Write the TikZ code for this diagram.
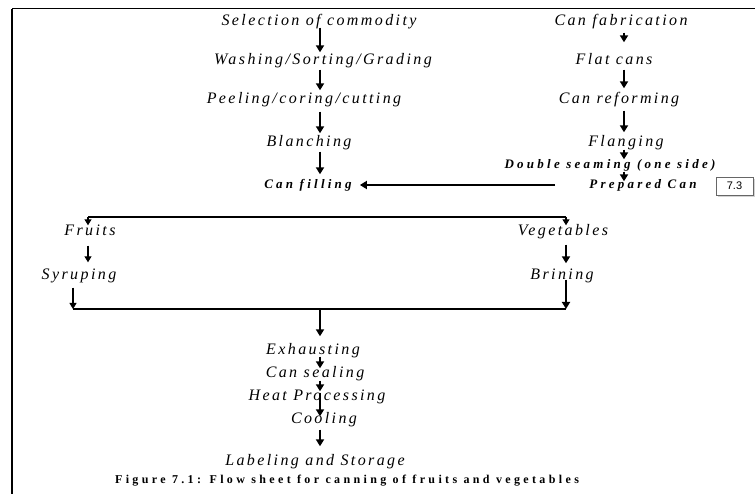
\documentclass[tikz,border=0pt]{standalone}
\usepackage{fontspec}
\usetikzlibrary{arrows.meta,shadows}
\newfontfamily\stepfont[LetterSpace=15]{Liberation Serif}
\newfontfamily\seamfont[LetterSpace=25]{Liberation Serif}
\newfontfamily\capfont[LetterSpace=28]{Liberation Serif}
\newfontfamily\tagfont{Liberation Sans}
\tikzset{
  lab/.style={font=\stepfont\itshape\fontsize{16}{18}\selectfont, inner sep=0pt,
              text height=10pt, text depth=3pt, anchor=center},
  blab/.style={font=\seamfont\bfseries\itshape\fontsize{13}{15}\selectfont, inner sep=0pt,
              text height=10pt, text depth=3pt, anchor=center},
  arr/.style={line width=1.8pt, -{Triangle[width=8pt,length=7pt]}},
  tarr/.style={line width=1.1pt, -{Triangle[width=7pt,length=6pt]}},
  link/.style={line width=1.1pt},
}
\begin{document}
\begin{tikzpicture}[x=1pt,y=-1pt]
\useasboundingbox (0,0) rectangle (755,494);
% page frame
\draw[line width=1.6pt] (12,9) -- (12,494);
\draw[line width=1pt] (12,9) -- (755,9);

% product line
\node[lab] (sel) at (319,22) {Selection of commodity};
\node[lab] (wash) at (323,61) {Washing/Sorting/Grading};
\node[lab] (peel) at (304,100) {Peeling/coring/cutting};
\node[lab] (blanch) at (309,143) {Blanching};
\node[blab] (fill) at (308,185) {Can filling};
\coordinate (colL) at (320,0);

% can line
\node[lab] (fab) at (621,22) {Can fabrication};
\node[lab] (flat) at (614,61) {Flat cans};
\node[lab] (reform) at (619,100) {Can reforming};
\node[lab] (flange) at (626,143) {Flanging};
\node[blab] (dbl) at (610,165) {Double seaming (one side)};
\node[blab] (prep) at (643,185) {Prepared Can};
\coordinate (colR) at (624,0);
\node[draw=black!60, line width=0.6pt, fill=white, minimum width=37pt, minimum height=18pt,
      inner sep=0pt, font=\tagfont\fontsize{11}{13}\selectfont,
      drop shadow={shadow xshift=2pt, shadow yshift=-2pt, opacity=0.35}]
      (tag) at (734.5,186) {7.3};

% branches
\node[lab] (fruits) at (90,232) {Fruits};
\node[lab] (veg) at (563,232) {Vegetables};
\node[lab] (syr) at (79,276) {Syruping};
\node[lab] (brine) at (562,276) {Brining};
\coordinate (brL) at (88,217);
\coordinate (brR) at (566,217);
\coordinate (mgL) at (73,309);
\coordinate (mgR) at (566,309);
\coordinate (mgC) at (320,309);

% processing
\node[lab] (exh) at (313,351) {Exhausting};
\node[lab] (seal) at (315,374) {Can sealing};
\node[lab] (heat) at (317,397) {Heat Processing};
\node[lab] (cool) at (324,420) {Cooling};
\node[lab] (store) at (315,462) {Labeling and Storage};

\node[font=\capfont\bfseries\fontsize{12}{14}\selectfont, inner sep=0pt] (cap) at (347,481)
  {Figure 7.1: Flow sheet for canning of fruits and vegetables};

% product arrows
\draw[arr, shorten <=-1pt, shorten >=2pt] (sel.south -| colL) -- (wash.north -| colL);
\draw[arr, shorten <=2pt, shorten >=3pt] (wash.south -| colL) -- (peel.north -| colL);
\draw[arr, shorten <=5pt, shorten >=3pt] (peel.south -| colL) -- (blanch.north -| colL);
\draw[arr, shorten <=2pt, shorten >=4pt] (blanch.south -| colL) -- (fill.north -| colL);

% can arrows
\draw[arr, shorten <=4pt, shorten >=12pt] (fab.south -| colR) -- (flat.north -| colR);
\draw[arr, shorten <=2pt, shorten >=5pt] (flat.south -| colR) -- (reform.north -| colR);
\draw[arr, shorten <=4pt, shorten >=4pt] (reform.south -| colR) -- (flange.north -| colR);
\draw[arr, shorten <=0pt, shorten >=-1pt] (flange.south -| colR) -- (dbl.north -| colR);
\draw[arr, shorten <=0pt, shorten >=-3pt] (dbl.south -| colR) -- (prep.north -| colR);
\draw[arr, shorten <=34pt, shorten >=8pt] (prep.west) -- (fill.east);

% split into fruits and vegetables
\draw[link] (brL) -- (brR);
\draw[tarr] (brL) -- (fruits.north -| brL);
\draw[tarr] (brR) -- (veg.north -| brR);
\draw[tarr, shorten <=7pt, shorten >=7pt] (fruits.south -| brL) -- (syr.north -| brL);
\draw[arr, shorten <=6pt, shorten >=6pt] (veg.south -| brR) -- (brine.north -| brR);
\draw[tarr, shorten <=5pt] (syr.south -| mgL) -- (mgL);
\draw[arr, shorten <=-3pt] (brine.south -| mgR) -- (mgR);
\draw[link] (mgL) -- (mgR);

% processing arrows
\draw[arr, shorten >=8pt] (mgC) -- (exh.north -| colL);
\draw[arr, shorten <=-1pt, shorten >=-1pt] (exh.south -| colL) -- (seal.north -| colL);
\draw[arr, shorten <=0pt, shorten >=-1pt] (seal.south -| colL) -- (heat.north -| colL);
\draw[arr, shorten <=-11pt, shorten >=-3pt] (heat.south -| colL) -- (cool.north -| colL);
\draw[arr, shorten <=3pt, shorten >=9pt] (cool.south -| colL) -- (store.north -| colL);
\end{tikzpicture}
\end{document}
